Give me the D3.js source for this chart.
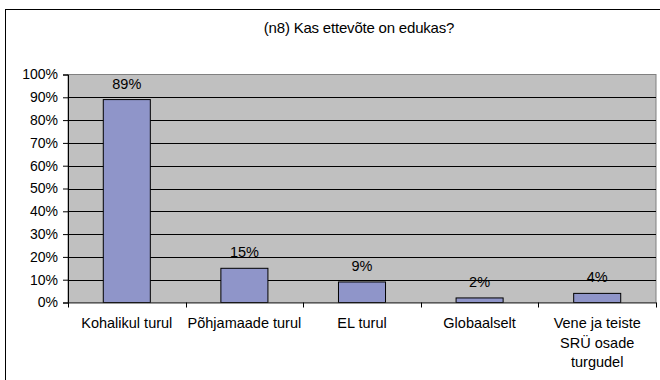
<!DOCTYPE html>
<html><head><meta charset="utf-8">
<script src="https://cdn.jsdelivr.net/npm/d3@7"></script>
<style>body{margin:0;background:#fff}svg{display:block}text{font-family:"Liberation Sans",Arial,sans-serif;fill:#000}</style>
</head><body>
<svg id="c" width="660" height="380"></svg>
<script>
const title = "(n8) Kas ettevõte on edukas?";
const categories = ["Kohalikul turul","Põhjamaade turul","EL turul","Globaalselt","Vene ja teiste SRÜ osade turgudel"];
const categoryLines = [["Kohalikul turul"],["Põhjamaade turul"],["EL turul"],["Globaalselt"],["Vene ja teiste","SRÜ osade","turgudel"]];
const values = [0.89,0.15,0.09,0.02,0.04];
const valueLabels = ["89%","15%","9%","2%","4%"];
const yTicks = [0,0.1,0.2,0.3,0.4,0.5,0.6,0.7,0.8,0.9,1.0];

const svg = d3.select("#c");
const L=68, R=656, T=74.5, B=302.5;
const FS = 14.5;
// outer border
svg.append("rect").attr("x",5.5).attr("y",9.5).attr("width",700).attr("height",400)
  .attr("fill","#fff").attr("stroke","#000").attr("stroke-width",1);
svg.append("text").attr("x",359).attr("y",33).attr("text-anchor","middle")
  .attr("font-size",15).attr("letter-spacing",-0.2).text(title);

const x = d3.scaleBand().domain(categories).range([L,R]).padding(0);
const y = d3.scaleLinear().domain([0,1]).range([B,T]);

svg.append("rect").attr("x",L).attr("y",T).attr("width",R-L).attr("height",B-T)
  .attr("fill","#C0C0C0").attr("stroke","#808080");

svg.append("g").selectAll("line").data(yTicks.slice(1,-1)).join("line")
  .attr("x1",L).attr("x2",R).attr("y1",d=>Math.round(y(d))+0.5).attr("y2",d=>Math.round(y(d))+0.5)
  .attr("stroke","#000").attr("stroke-width",1);

const bw = x.bandwidth()*0.4;
svg.append("g").selectAll("rect").data(values).join("rect")
  .attr("x",(d,i)=>x(categories[i])+x.bandwidth()/2-bw/2)
  .attr("y",d=>y(d)).attr("width",bw).attr("height",d=>B-y(d))
  .attr("fill","#8F95C9").attr("stroke","#000").attr("stroke-width",1);

svg.append("g").selectAll("text").data(values).join("text")
  .attr("x",(d,i)=>x(categories[i])+x.bandwidth()/2)
  .attr("y",d=>y(d)-11).attr("text-anchor","middle").attr("font-size",FS)
  .text((d,i)=>valueLabels[i]);

// y axis
const ya = svg.append("g").attr("transform",`translate(${L},0)`)
  .call(d3.axisLeft(y).tickValues(yTicks).tickFormat(d3.format(".0%")).tickSize(5).tickPadding(5));
ya.select(".domain").attr("stroke","#000");
ya.selectAll("text").attr("font-size",14).attr("font-family","Liberation Sans, Arial, sans-serif");

// x axis
const xa = svg.append("g").attr("transform",`translate(0,${B})`)
  .call(d3.axisBottom(x).tickSize(0).tickFormat(""));
xa.select(".domain").attr("stroke","#333");
const tickPos = categories.map(c=>x(c)).concat([R]);
svg.append("g").selectAll("line").data(tickPos).join("line")
  .attr("x1",d=>Math.round(d)+0.5).attr("x2",d=>Math.round(d)+0.5).attr("y1",B).attr("y2",B+5)
  .attr("stroke","#000");

const cl = svg.append("g").selectAll("text").data(categoryLines).join("text")
  .attr("text-anchor","middle").attr("font-size",FS)
  .attr("x",(d,i)=>x(categories[i])+x.bandwidth()/2);
cl.each(function(lines,i){
  d3.select(this).selectAll("tspan").data(lines).join("tspan")
    .attr("x",x(categories[i])+x.bandwidth()/2)
    .attr("y",(l,j)=>328+j*19.5).text(l=>l);
});
</script>
</body></html>
